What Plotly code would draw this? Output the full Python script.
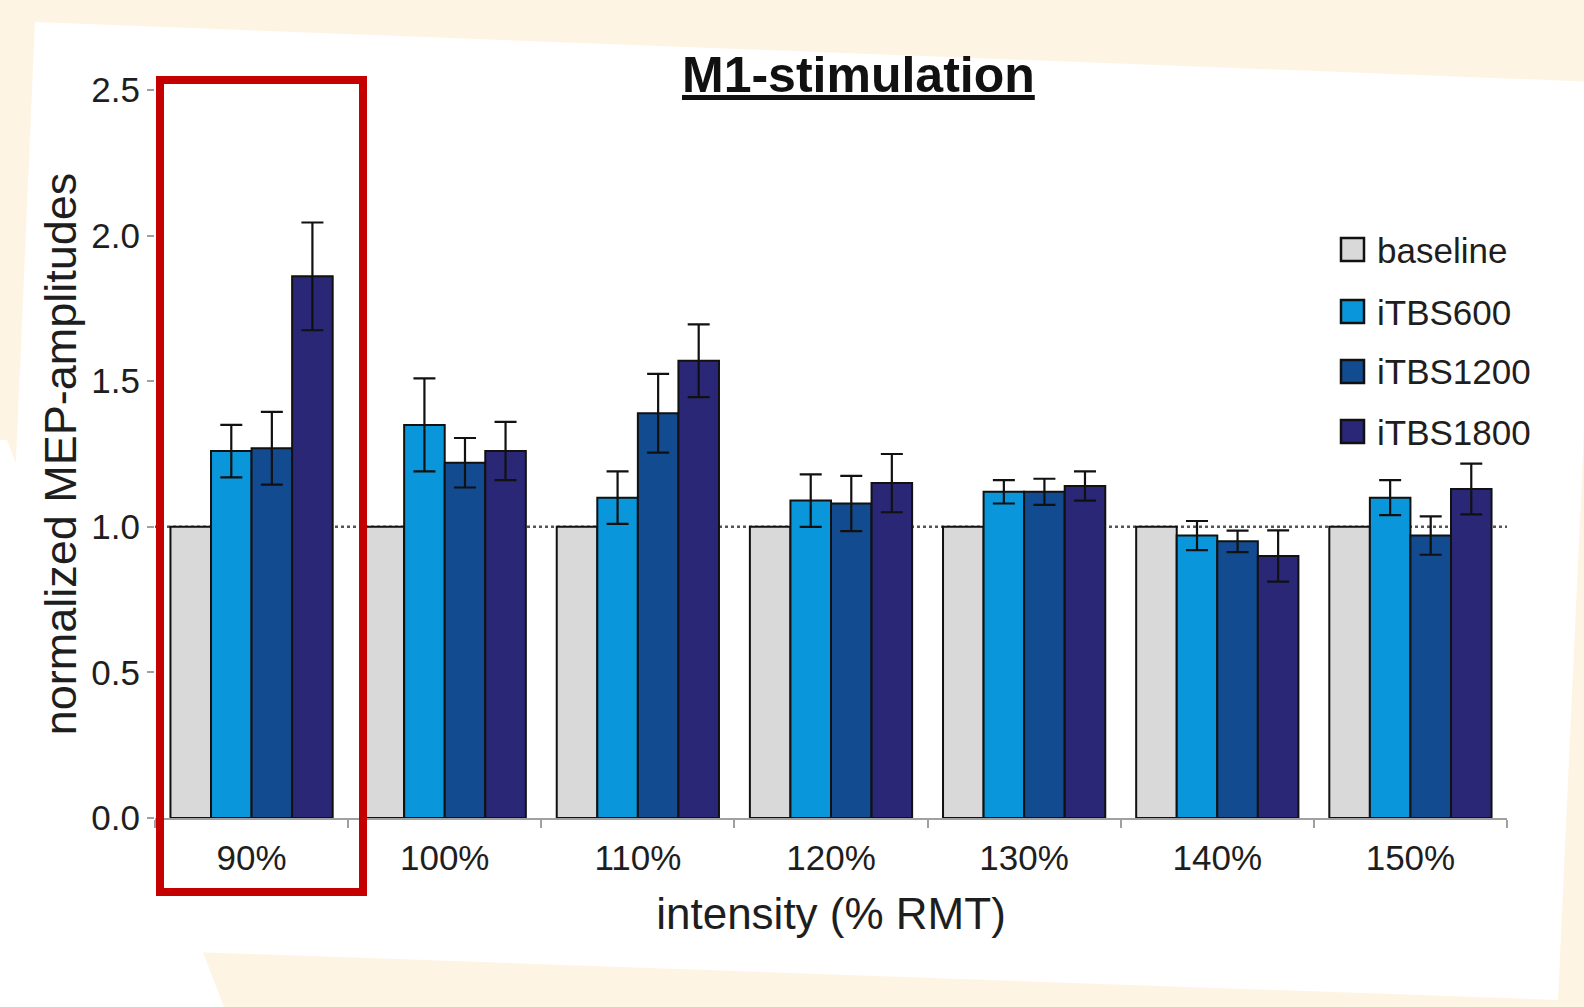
import plotly.graph_objects as go

# ---------------- data ----------------
categories = ["90%", "100%", "110%", "120%", "130%", "140%", "150%"]
series_names = ["baseline", "iTBS600", "iTBS1200", "iTBS1800"]
baseline = [1.0, 1.0, 1.0, 1.0, 1.0, 1.0, 1.0]
itbs600 = [1.26, 1.35, 1.10, 1.09, 1.12, 0.97, 1.10]
itbs600_err = [0.09, 0.16, 0.09, 0.09, 0.04, 0.05, 0.06]
itbs1200 = [1.27, 1.22, 1.39, 1.08, 1.12, 0.95, 0.97]
itbs1200_err = [0.125, 0.085, 0.135, 0.095, 0.045, 0.037, 0.066]
itbs1800 = [1.86, 1.26, 1.57, 1.15, 1.14, 0.90, 1.13]
itbs1800_err = [0.185, 0.10, 0.125, 0.10, 0.05, 0.088, 0.087]
y_ticks = [0.0, 0.5, 1.0, 1.5, 2.0, 2.5]

values = [baseline, itbs600, itbs1200, itbs1800]
errors = [None, itbs600_err, itbs1200_err, itbs1800_err]
colors = ["#d9d9d9", "#0a96db", "#134b91", "#2a2777"]

# ---------------- layout geometry ----------------
W, H = 1584, 1007
ML, MR, MT, MB = 155, 77, 90, 189
PW, PH = W - ML - MR, H - MT - MB


def px(xp):
    return (xp - ML) / PW


def py(yp):
    return (H - MB - yp) / PH


FONT = "Liberation Sans, Arial, Helvetica, sans-serif"
TXT = "#1e1e1e"

fig = go.Figure()
for name, vals, err, col in zip(series_names, values, errors, colors):
    fig.add_trace(go.Bar(
        name=name, x=categories, y=vals,
        marker=dict(color=col, line=dict(color="#111111", width=2)),
        error_y=(dict(type="data", array=err, visible=True, color="#111111",
                      thickness=2.2, width=11) if err is not None else None),
        showlegend=False,
    ))


def poly(points):
    d = "M " + " L ".join(f"{px(a):.5f},{py(b):.5f}" for a, b in points) + " Z"
    return d


shapes = [
    # white paper sheets over cream background
    dict(type="path", xref="paper", yref="paper", layer="below",
         path=poly([(35, 22), (1600, 82), (1558, 1000), (-5, 945)]),
         fillcolor="white", line=dict(width=0)),
    dict(type="path", xref="paper", yref="paper", layer="below",
         path=poly([(-5, 440), (7, 440), (225, 1010), (-5, 1010)]),
         fillcolor="white", line=dict(width=0)),
    # dotted reference line at 1.0
    dict(type="line", xref="paper", yref="y", x0=0, x1=1, y0=1.0, y1=1.0,
         layer="below", line=dict(color="#555555", width=2.5, dash="dot")),
    # red highlight box around 90%
    dict(type="rect", xref="paper", yref="paper",
         x0=px(160), x1=px(363), y0=py(892), y1=py(80),
         line=dict(color="#c40000", width=8), fillcolor="rgba(0,0,0,0)",
         layer="above"),
]

annotations = [
    dict(text="<u><b>M1-stimulation</b></u>", xref="paper", yref="paper",
         x=px(858), y=py(75), xanchor="center", yanchor="middle",
         showarrow=False, font=dict(family=FONT, size=50, color="#111111")),
]

# manual legend
leg_y = [250, 312, 372, 432]
for name, col, yy in zip(series_names, colors, leg_y):
    shapes.append(dict(type="rect", xref="paper", yref="paper",
                       x0=px(1341), x1=px(1364), y0=py(yy + 11), y1=py(yy - 12),
                       fillcolor=col, line=dict(color="#111111", width=2.5)))
    annotations.append(dict(text=name, xref="paper", yref="paper",
                            x=px(1375), y=py(yy), xanchor="left", yanchor="middle",
                            showarrow=False,
                            font=dict(family=FONT, size=35, color=TXT)))

fig.update_layout(
    width=W, height=H,
    margin=dict(l=ML, r=MR, t=MT, b=MB, autoexpand=False),
    paper_bgcolor="#fef4e3",
    plot_bgcolor="rgba(0,0,0,0)",
    barmode="group", bargap=0.16, bargroupgap=0.0,
    font=dict(family=FONT, color=TXT),
    shapes=shapes, annotations=annotations,
    xaxis=dict(
        showline=True, linecolor="#a0a0a0", linewidth=2,
        ticks="outside", tickson="boundaries", ticklen=8, tickcolor="#a0a0a0",
        tickwidth=1.5, showgrid=False, zeroline=False,
        tickfont=dict(family=FONT, size=35, color=TXT),
        ticklabelstandoff=8,
        title=dict(text="intensity (% RMT)", standoff=22,
                   font=dict(family=FONT, size=44, color=TXT)),
    ),
    yaxis=dict(
        range=[0, 2.5], tickvals=y_ticks, tickformat=".1f",
        showline=False, showgrid=False, zeroline=False,
        ticks="outside", ticklen=7, tickcolor="#a0a0a0", tickwidth=1.5,
        tickfont=dict(family=FONT, size=35, color=TXT),
        title=dict(text="normalized MEP-amplitudes", standoff=0,
                   font=dict(family=FONT, size=45, color=TXT)),
    ),
)

fig.write_html("out.html")
